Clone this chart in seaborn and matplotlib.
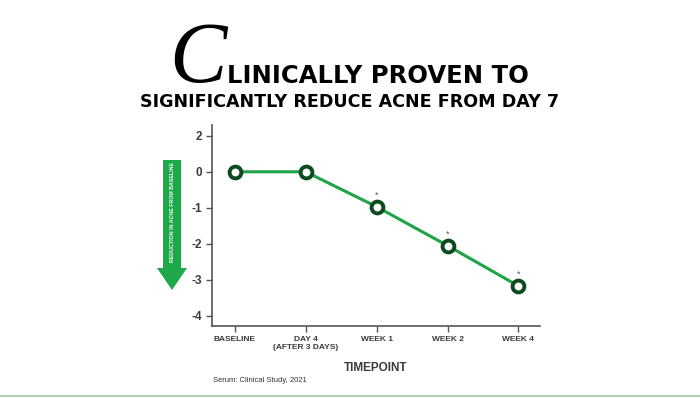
import numpy as np
import pandas as pd
import seaborn as sns
import matplotlib.pyplot as plt
from matplotlib.patches import FancyArrow

timepoints = ['BASELINE', 'DAY 4\n(AFTER 3 DAYS)', 'WEEK 1', 'WEEK 2', 'WEEK 4']
reduction = [0.0, 0.0, -0.97, -2.05, -3.17]
significant = [False, False, True, True, True]
# the chart spaces its ticks evenly, "2" sits one step above "0"
y_tick_pos = [1, 0, -1, -2, -3, -4]
y_tick_labels = ['2', '0', '-1', '-2', '-3', '-4']

sns.set_theme(style='white')
plt.rcParams['font.family'] = ['Liberation Sans', 'DejaVu Sans']

df = pd.DataFrame({'x': range(len(timepoints)), 'y': reduction})

fig = plt.figure(figsize=(7, 3.98), dpi=100)
ax = fig.add_axes([0.303, 0.181, 0.468, 0.505])

green = '#1ea346'
dark = '#0d4a1f'
sns.lineplot(data=df, x='x', y='y', ax=ax, color=green, linewidth=2.2,
             marker='o', markersize=8.5, markerfacecolor='white',
             markeredgecolor=dark, markeredgewidth=2.8, zorder=3)

for i, (v, s) in enumerate(zip(reduction, significant)):
    if s:
        ax.annotate('*', (i, v), xytext=(0, 5), textcoords='offset points',
                    ha='center', va='bottom', fontsize=6.5, color='#555555')

ax.set_xlim(-0.32, 4.3)
ax.set_ylim(-4.28, 1.3)
ax.set_xticks(range(len(timepoints)))
ax.set_xticklabels(timepoints, fontsize=6, fontweight='bold', color='#3a3a3a', linespacing=1.2)
ax.set_yticks(y_tick_pos)
ax.set_yticklabels(y_tick_labels, fontsize=8.5, fontweight='bold', color='#3a3a3a')
ax.tick_params(axis='both', length=4, width=1, color='#555555', direction='out', pad=3,
               bottom=True, left=True)
for side in ['top', 'right']:
    ax.spines[side].set_visible(False)
for side in ['left', 'bottom']:
    ax.spines[side].set_color('#555555')
    ax.spines[side].set_linewidth(1.2)
ax.set_xlabel('TIMEPOINT', fontsize=8.5, fontweight='bold', color='#3a3a3a', labelpad=8)
ax.set_ylabel('')

# green arrow with label
arrow = FancyArrow(172 / 700, 1 - 160 / 398, 0, -(108 / 398), width=18 / 700,
                   head_width=30 / 700, head_length=22 / 398, length_includes_head=False,
                   transform=fig.transFigure, color='#1fa84a', linewidth=0)
fig.patches.append(arrow)
fig.text(172 / 700, 1 - 212 / 398, 'REDUCTION IN ACNE FROM BASELINE', rotation=90,
         ha='center', va='center', fontsize=3.8, fontweight='bold', color='white')

# title
fig.text(227 / 700, 1 - 82 / 398, 'C', fontsize=62, family=['Liberation Serif'],
         style='italic', ha='right', va='baseline', color='black')
fig.text(227 / 700, 1 - 83 / 398, 'LINICALLY PROVEN TO', fontsize=17.5, fontweight='bold',
         family=['DejaVu Sans'], ha='left', va='baseline', color='black')
fig.text(350 / 700, 1 - 107 / 398, 'SIGNIFICANTLY REDUCE ACNE FROM DAY 7', fontsize=12.6,
         fontweight='bold', family=['DejaVu Sans'], ha='center', va='baseline', color='black')

fig.text(213 / 700, 1 - 382 / 398, 'Serum: Clinical Study, 2021', fontsize=5.5,
         color='#333333', ha='left', va='baseline')

fig.add_artist(plt.Line2D([0, 1], [1 - 396 / 398] * 2, transform=fig.transFigure,
                          color='#a8c4a8', linewidth=1.2))

fig.savefig('out.png', dpi=100)
